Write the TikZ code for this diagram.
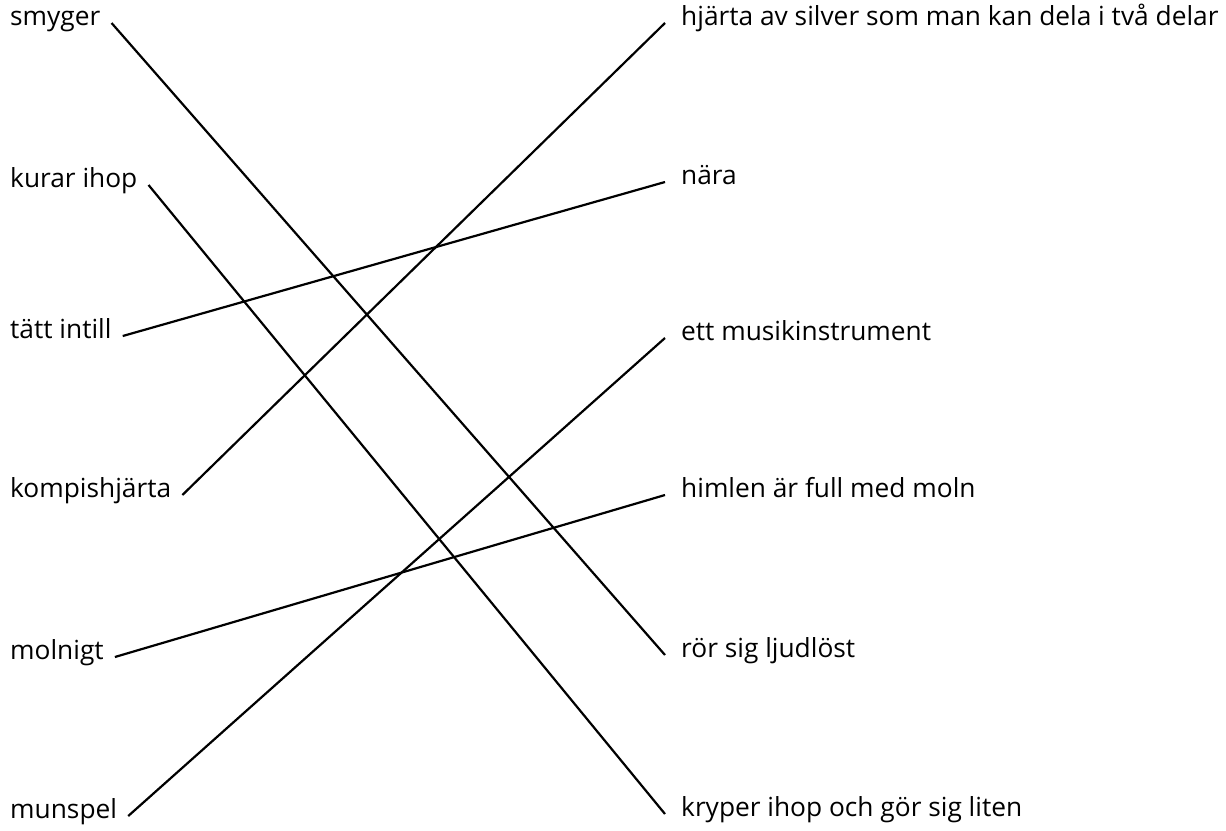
\documentclass[tikz,border=0pt]{standalone}
\usepackage{fontspec}
\setmainfont{Open Sans}

\tikzset{
	word/.style={inner sep=0pt, anchor=mid west, font=\fontsize{26.3}{31}\selectfont},
	link/.style={line width=2.2pt}
}

\begin{document}
\begin{tikzpicture}[x=1pt,y=-1pt]
	\useasboundingbox (0,0) rectangle (1226,830);

	    % left column
	    \node[word] (smyger) at (10,23) {smyger};
	    \node[word] (kurar) at (10,185) {kurar ihop};
	    \node[word] (tatt) at (10,336) {tätt intill};
	    \node[word] (kompis) at (10,495) {kompishjärta};
	    \node[word] (molnigt) at (10,657) {molnigt};
	    \node[word] (munspel) at (10,816) {munspel};

	    % right column
	    \node[word] (hjarta) at (681,23) {hjärta av silver som man kan dela i två delar};
	    \node[word] (nara) at (681,182) {nära};
	    \node[word] (musik) at (681,338) {ett musikinstrument};
	    \node[word] (himlen) at (681,495) {himlen är full med moln};
	    \node[word] (ror) at (681,655) {rör sig ljudlöst};
	    \node[word] (kryper) at (681,814) {kryper ihop och gör sig liten};

	    \draw[link] ([xshift=11pt]smyger.mid east) -- ([xshift=-16pt]ror.mid west);
	    \draw[link] ([xshift=11pt]kurar.mid east) -- ([xshift=-16pt]kryper.mid west);
	    \draw[link] ([xshift=11pt]tatt.mid east) -- ([xshift=-16pt]nara.mid west);
	    \draw[link] ([xshift=11pt]kompis.mid east) -- ([xshift=-16pt]hjarta.mid west);
	    \draw[link] ([xshift=11pt]molnigt.mid east) -- ([xshift=-16pt]himlen.mid west);
	    \draw[link] ([xshift=11pt]munspel.mid east) -- ([xshift=-16pt]musik.mid west);

\end{tikzpicture}
\end{document}
